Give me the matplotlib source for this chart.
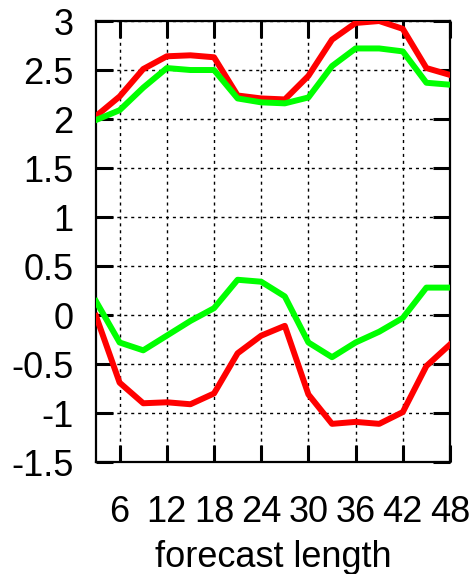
import matplotlib
matplotlib.use("Agg")
import matplotlib.pyplot as plt

plt.rcParams['font.family'] = ['Liberation Sans', 'DejaVu Sans']
plt.rcParams['axes.unicode_minus'] = False

# forecast length (hours)
hours = [3, 6, 9, 12, 15, 18, 21, 24, 27, 30, 33, 36, 39, 42, 45, 48]

red_upper = [2.03, 2.23, 2.51, 2.64, 2.65, 2.63, 2.24, 2.21, 2.20, 2.44,
             2.81, 2.98, 3.00, 2.92, 2.52, 2.45]
green_upper = [1.99, 2.09, 2.32, 2.52, 2.50, 2.50, 2.21, 2.17, 2.16, 2.22,
               2.54, 2.72, 2.72, 2.69, 2.37, 2.35]
green_lower = [0.14, -0.28, -0.36, -0.21, -0.06, 0.07, 0.36, 0.34, 0.19, -0.28,
               -0.43, -0.28, -0.17, -0.03, 0.28, 0.28]
red_lower = [-0.01, -0.69, -0.90, -0.89, -0.91, -0.80, -0.39, -0.21, -0.11, -0.81,
             -1.11, -1.09, -1.11, -0.99, -0.52, -0.30]

xticks = [6, 12, 18, 24, 30, 36, 42, 48]
yticks = [-1.5, -1, -0.5, 0, 0.5, 1, 1.5, 2, 2.5, 3]
ytick_labels = ['-1.5', '-1', '-0.5', '0', '0.5', '1', '1.5', '2', '2.5', '3']

fig = plt.figure(figsize=(4.77, 5.74), dpi=100)
ax = fig.add_axes([0.2013, 0.195, 0.7421, 0.7684])

ax.plot(hours, red_upper, color='#ff0000', lw=4.3, zorder=3)
ax.plot(hours, green_upper, color='#00ff00', lw=4.3, zorder=3)
ax.plot(hours, red_lower, color='#ff0000', lw=4.3, zorder=3)
ax.plot(hours, green_lower, color='#00ff00', lw=4.3, zorder=3)

ax.set_xlim(3, 48)
ax.set_ylim(-1.5, 3)
ax.set_xticks(xticks)
ax.set_yticks(yticks)
ax.set_yticklabels(ytick_labels)

ax.grid(True, color='black', linestyle=(0, (2.2, 2.8)), linewidth=1.0)
ax.tick_params(direction='in', length=12, width=2.2, top=True, right=True,
               labelsize=26)
ax.tick_params(axis='y', pad=16)
ax.tick_params(axis='x', pad=24)
for s in ax.spines.values():
    s.set_linewidth(1.6)

ax.set_xlabel('forecast length', fontsize=26, labelpad=7)

fig.savefig('out.png', dpi=100)
